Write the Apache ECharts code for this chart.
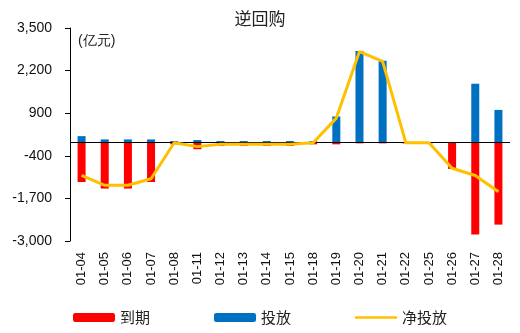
<!DOCTYPE html>
<html><head><meta charset="utf-8">
<script src="https://cdn.jsdelivr.net/npm/echarts@6/dist/echarts.min.js"></script>
<style>html,body{margin:0;padding:0;background:#fff}#c{width:520px;height:333px}</style>
</head><body><div id="c"></div>
<script>
const categories = ['01-04','01-05','01-06','01-07','01-08','01-11','01-12','01-13','01-14','01-15','01-18','01-19','01-20','01-21','01-22','01-25','01-26','01-27','01-28'];
const maturity = [-1200,-1400,-1400,-1200,-50,-200,-100,-100,-100,-100,-50,-50,-20,-20,-20,-20,-800,-2800,-2500];
const injection = [200,100,100,100,50,80,50,50,50,50,50,800,2800,2500,20,20,20,1800,1000];
const netInjection = [-1000,-1300,-1300,-1100,0,-120,-50,-50,-50,-50,0,750,2780,2480,0,0,-780,-1000,-1500];
const yTicks = [-3000,-1700,-400,900,2200,3500];
const seriesNames = ['到期','投放','净投放'];

const chart = echarts.init(document.getElementById('c'));
const font = '"Liberation Sans", Arial, sans-serif';
chart.setOption({
  animation: false,
  title: {text: '逆回购', left: 'center', top: 5, textStyle: {fontSize: 17, fontWeight: 'normal', color: '#222', fontFamily: '"Noto Sans CJK SC", sans-serif'}},
  graphic: [{type: 'text', left: 78, top: 34, style: {text: '(亿元)', fontSize: 14, fill: '#222', font: '14px "Noto Sans CJK SC", sans-serif'}}],
  legend: {
    bottom: 3, left: 'center', itemWidth: 42, itemHeight: 9, itemGap: 64,
    textStyle: {fontSize: 15, color: '#222', fontFamily: '"Noto Sans CJK SC", sans-serif'},
    data: [
      {name: seriesNames[0]},
      {name: seriesNames[1]},
      {name: seriesNames[2], icon: 'path://M0,0L42,0L42,2.5L0,2.5Z'}
    ]
  },
  grid: {left: 70, right: 10, top: 28, bottom: 92},
  xAxis: {
    type: 'category', data: categories,
    axisLine: {show: false}, axisTick: {show: false},
    axisLabel: {rotate: 90, fontSize: 13, color: '#111', margin: 11, fontFamily: font}
  },
  yAxis: {
    type: 'value', min: -3000, max: 3500,
    splitLine: {show: false},
    axisLine: {show: true, lineStyle: {color: '#000', width: 1}},
    axisTick: {show: true, inside: false, length: 5, lineStyle: {color: '#000'}, customValues: yTicks},
    axisLabel: {fontSize: 14, color: '#111', margin: 18, fontFamily: font, customValues: yTicks,
      formatter: v => v.toLocaleString('en-US')}
  },
  series: [
    {name: seriesNames[0], type: 'bar', stack: 'a', data: maturity, barWidth: 8, itemStyle: {color: '#FF0000'}},
    {name: seriesNames[1], type: 'bar', stack: 'a', data: injection, barWidth: 8, itemStyle: {color: '#0070C0'}},
    {name: seriesNames[2], type: 'line', data: netInjection, symbol: 'none', showSymbol: false,
      lineStyle: {color: '#FFC000', width: 3}, itemStyle: {color: '#FFC000'}, z: 5,
      markLine: {silent: true, symbol: 'none', label: {show: false}, lineStyle: {color: '#000', width: 1, type: 'solid'}, data: [{yAxis: 0}]}}
  ]
});
</script></body></html>
